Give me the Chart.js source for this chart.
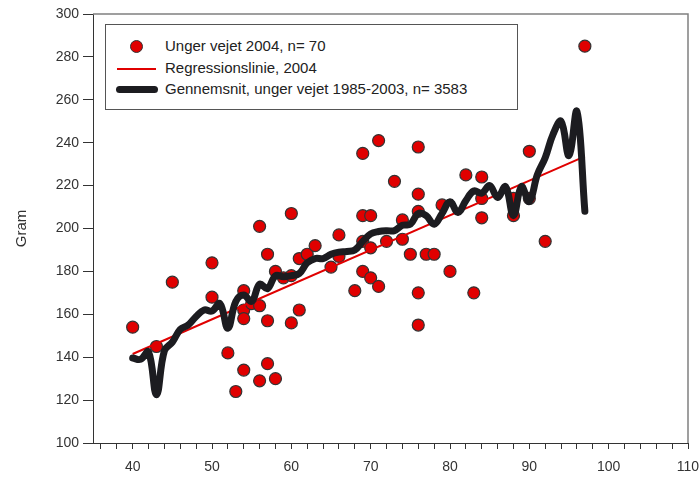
<!DOCTYPE html>
<html lang="da">
<head>
  <meta charset="UTF-8">
  <title>Unger vejet 2004</title>
  <script src="https://cdn.jsdelivr.net/npm/chart.js"></script>
  <style>
    body { margin: 0; background: #fff; }
    .wrap { position: relative; width: 699px; height: 481px; }
    .legend {
      position: absolute; left: 105px; top: 24px; width: 411px; height: 84px;
      border: 1px solid #555; background: #fff;
      font-family: 'Liberation Sans', Arial, sans-serif; font-size: 15px; color: #222;
    }
    .legend .row { position: absolute; left: 59px; height: 20px; line-height: 20px; white-space: nowrap; }
    .legend .mark { position: absolute; }
    .dot { width: 11px; height: 11px; border-radius: 50%; background: #e00000; border: 1px solid #333; }
    .redline { width: 39px; height: 2px; background: #e00000; }
    .blackline { width: 42px; height: 7px; border-radius: 4px; background: #1c1c20; }
  </style>
</head>
<body>
<div class="wrap">
  <canvas id="chart" width="699" height="481"></canvas>
  <div class="legend">
    <div class="mark dot" style="left:24px; top:15px;"></div>
    <div class="row" style="top:11px;">Unger vejet 2004, n= 70</div>
    <div class="mark redline" style="left:11px; top:43px;"></div>
    <div class="row" style="top:33px;">Regressionslinie, 2004</div>
    <div class="mark blackline" style="left:10px; top:61px;"></div>
    <div class="row" style="top:54px;">Gennemsnit, unger vejet 1985-2003, n= 3583</div>
  </div>
</div>
<script>
  // chicks weighed 2004 (age in days, weight in gram)
  const pointAges = [40, 43, 45, 50, 50, 52, 53, 54, 54, 54, 54, 55, 56, 56, 56, 57, 57, 57, 58, 58,
    59, 60, 60, 60, 61, 61, 62, 63, 65, 66, 66, 68, 69, 69, 69, 69, 70, 70, 70, 71,
    71, 72, 73, 74, 74, 75, 76, 76, 76, 76, 76, 77, 78, 79, 80, 82, 83, 84, 84, 84,
    88, 88, 90, 90, 92, 97];
  const pointWeights = [154, 145, 175, 184, 168, 142, 124, 171, 162, 158, 134, 165, 164, 201, 129, 188, 157, 137, 180, 130,
    177, 178, 207, 156, 162, 186, 188, 192, 182, 197, 187, 171, 235, 206, 194, 180, 206, 191, 177, 241,
    173, 194, 222, 204, 195, 188, 238, 216, 208, 170, 155, 188, 188, 211, 180, 225, 170, 224, 214, 205,
    214, 206, 236, 214, 194, 285];

  // regression line 2004
  const regAges = [40, 97];
  const regWeights = [141.5, 233.6];

  // mean weight 1985-2003 by age
  const meanAges = [40, 41, 42, 43, 44, 45, 46, 47, 48, 49, 50, 51, 52, 53, 54, 55, 56, 57, 58, 59,
    60, 61, 62, 63, 64, 65, 66, 67, 68, 69, 70, 71, 72, 73, 74, 75, 76, 77, 78, 79,
    80, 81, 82, 83, 84, 85, 86, 87, 88, 89, 90, 91, 92, 93, 94, 95, 96, 97];
  const meanWeights = [139.6, 139, 142.5, 122.5, 143, 147, 153, 155, 159, 162, 161.5, 165, 153.5, 166, 169, 166, 174, 172, 178, 177.5,
    178, 179, 184, 186, 186, 188, 189, 189.3, 190, 194, 197.5, 198.6, 199, 199, 201.5, 202, 207, 206, 202, 207,
    212.5, 207.5, 213, 217.5, 216.5, 220, 214.5, 219.5, 206, 219.5, 212.6, 225, 233, 244, 250, 234, 254.6, 208];

  const xTicks = { min: 35, max: 110, step: 2 };
  const yTicks = { min: 100, max: 300, step: 20 };

  const toXY = (xs, ys) => xs.map((x, i) => ({ x: x, y: ys[i] }));

  const fontFamily = "'Liberation Sans', Arial, sans-serif";

  // gray frame on top and right of the plot area
  const framePlugin = {
    id: 'frame',
    beforeDatasetsDraw(chart) {
      const a = chart.chartArea;
      const ctx = chart.ctx;
      ctx.save();
      ctx.strokeStyle = '#808080';
      ctx.lineWidth = 1.5;
      ctx.beginPath();
      ctx.moveTo(a.left, a.top);
      ctx.lineTo(a.right, a.top);
      ctx.lineTo(a.right, a.bottom);
      ctx.stroke();
      ctx.restore();
    }
  };

  new Chart(document.getElementById('chart'), {
    type: 'scatter',
    data: {
      datasets: [
        {
          label: 'Gennemsnit, unger vejet 1985-2003, n= 3583',
          data: toXY(meanAges, meanWeights),
          showLine: true,
          borderColor: '#1c1c20',
          borderWidth: 7,
          borderCapStyle: 'round',
          borderJoinStyle: 'round',
          tension: 0.4,
          pointRadius: 0,
          order: 0
        },
        {
          label: 'Regressionslinie, 2004',
          data: toXY(regAges, regWeights),
          showLine: true,
          borderColor: '#e00000',
          borderWidth: 2,
          pointRadius: 0,
          order: 1
        },
        {
          label: 'Unger vejet 2004, n= 70',
          data: toXY(pointAges, pointWeights),
          backgroundColor: '#e00000',
          borderColor: '#333',
          borderWidth: 1.2,
          pointRadius: 6,
          order: 2
        }
      ]
    },
    options: {
      responsive: false,
      animation: false,
      layout: { padding: { top: 14, right: 11, left: 0, bottom: 0 } },
      plugins: {
        legend: { display: false },
        tooltip: { enabled: false }
      },
      scales: {
        x: {
          type: 'linear',
          min: xTicks.min,
          max: xTicks.max,
          afterFit(scale) {
            scale.height = 38;
            scale.paddingLeft = 0;
            scale.paddingRight = 0;
          },
          border: { display: true, color: '#333', width: 1 },
          grid: { drawOnChartArea: false, drawTicks: true, tickLength: 6, color: '#333' },
          ticks: {
            stepSize: xTicks.step,
            includeBounds: false,
            autoSkip: false,
            maxRotation: 0,
            padding: 10,
            color: '#333',
            font: { family: fontFamily, size: 14 },
            callback: (v) => (v % 10 === 0 ? String(v) : '')
          }
        },
        y: {
          type: 'linear',
          min: yTicks.min,
          max: yTicks.max,
          afterFit(scale) {
            scale.width = 93;
            scale.paddingTop = 0;
            scale.paddingBottom = 0;
          },
          border: { display: true, color: '#333', width: 1 },
          grid: { drawOnChartArea: false, drawTicks: true, tickLength: 10, color: '#333' },
          title: {
            display: true,
            text: 'Gram',
            color: '#333',
            font: { family: fontFamily, size: 15 },
            padding: { top: 13, bottom: 0 }
          },
          ticks: {
            stepSize: yTicks.step,
            padding: 4,
            color: '#333',
            font: { family: fontFamily, size: 14 }
          }
        }
      }
    },
    plugins: [framePlugin]
  });
</script>
</body>
</html>
